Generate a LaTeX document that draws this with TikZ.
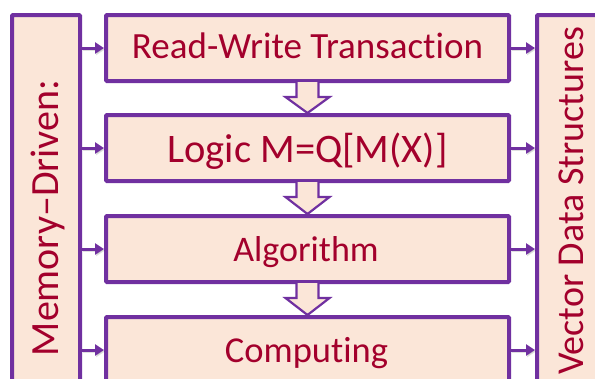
\documentclass[tikz,border=0pt]{standalone}
\usepackage{fontspec}
\setmainfont{Carlito}[Ligatures={NoCommon,NoRare,NoContextual}]
\usetikzlibrary{arrows.meta,calc}
\definecolor{boxline}{HTML}{7030A0}
\definecolor{boxfill}{HTML}{FBE6D8}
\definecolor{labeltext}{HTML}{A3002C}
\begin{document}
\begin{tikzpicture}[x=1pt,y=-1pt,
  stage/.style={draw=boxline,fill=boxfill,line width=4pt,rounded corners=1pt,
    minimum width=403pt,minimum height=66pt,inner sep=0pt},
  side/.style={draw=boxline,fill=boxfill,line width=4pt,rounded corners=1pt,inner sep=0pt},
  lbl/.style={text=labeltext,inner sep=0pt,anchor=base},
  feed/.style={draw=boxline,line width=3pt,-{Triangle[length=9pt,width=11pt]}},
  feedshadow/.style={draw=black,opacity=0.12,line width=3pt,-{Triangle[length=9pt,width=11pt]}},
  hollow/.style={draw=boxline,fill=boxfill,line width=2.2pt,line join=miter}
]
\useasboundingbox (0,0) rectangle (595,378);
\clip (0,0) rectangle (595,378);

% side columns
\node[side,minimum width=68pt,minimum height=405pt] (mem) at (46,217.5) {};
\node[side,minimum width=83pt,minimum height=405pt] (vec) at (578.5,217.5) {};

% stacked stages
\node[stage] (rw)  at (307.5,48)  {};
\node[stage] (lg)  at (307.5,148) {};
\node[stage] (alg) at (307.5,249) {};
\node[stage] (cmp) at (307.5,350) {};

% stage labels
\node[lbl,font=\fontsize{37}{41}\selectfont] (trw)  at (307.5,58)  {Read-Write Transaction};
\node[lbl,font=\fontsize{40.5}{44}\selectfont] (tlg)  at (307.5,162) {Logic M=Q[M(X)]};
\node[lbl,font=\fontsize{36}{40}\selectfont] (talg) at (306,261) {Algorithm};
\node[lbl,font=\fontsize{36.5}{40}\selectfont] (tcmp) at (306.5,362) {Computing};

% side labels
\node[lbl,rotate=90,font=\fontsize{40}{44}\selectfont] (tmem) at (58,218) {Memory–Driven:};
\node[lbl,rotate=90,font=\fontsize{38}{42}\selectfont] (tvec) at (583,201) {Vector Data Structures};

% feeds from the memory column and into the vector column, with a faint shadow
\foreach \s in {rw,lg,alg,cmp}{
  \draw[feedshadow] ($(mem.east |- \s.west)+(1,1.5)$) -- ($(\s.west)+(1,1.5)$);
  \draw[feedshadow] ($(\s.east)+(1,1.5)$) -- ($(vec.west |- \s.east)+(1,1.5)$);
  \draw[feed] (mem.east |- \s.west) -- (\s.west);
  \draw[feed] (\s.east) -- (vec.west |- \s.east);
}

% hollow arrows between stages
\foreach \a/\b in {rw/lg,lg/alg,alg/cmp}{
  \draw[hollow] ($(\a.south)+(-11,-1)$) -- ++(0,15) -- ++(-11,0) -- (\b.north)
    -- ($(\a.south)+(22,14)$) -- ++(-11,0) -- ($(\a.south)+(11,-1)$);
}
\end{tikzpicture}
\end{document}
